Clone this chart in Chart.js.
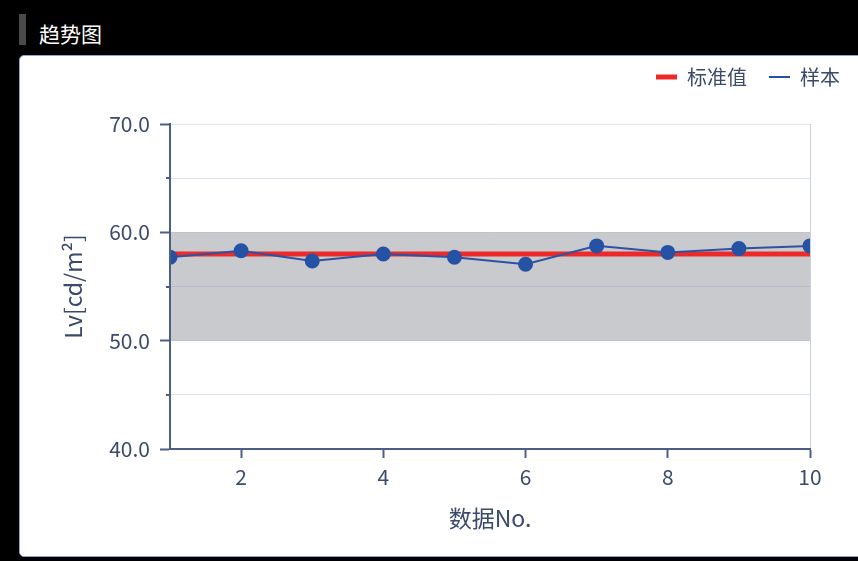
<!DOCTYPE html>
<html>
<head>
<meta charset="utf-8">
<script src="https://cdn.jsdelivr.net/npm/chart.js@4/dist/chart.umd.min.js"></script>
<style>
  html, body { margin: 0; padding: 0; background: #000; width: 858px; height: 561px; overflow: hidden; }
  .bar { position: absolute; left: 19px; top: 14px; width: 7px; height: 31px; background: #4a4a4a; }
  .title { position: absolute; left: 39px; top: 21px; font: 21px/24px 'Noto Sans CJK SC', sans-serif; color: #fff; }
  .panel { position: absolute; left: 19px; top: 55px; width: 850px; height: 500px; background: #fff; border: 1px solid #8ea4cc; border-radius: 5px; }
  #c { position: absolute; left: 19px; top: 56px; }
</style>
</head>
<body>
<div class="bar"></div>
<div class="title">趋势图</div>
<div class="panel"></div>
<canvas id="c" width="839" height="501"></canvas>
<script>
// ---- data ----
const sampleNo = [1, 2, 3, 4, 5, 6, 7, 8, 9, 10];
const sampleValues = [57.7, 58.3, 57.35, 58.0, 57.7, 57.05, 58.75, 58.15, 58.5, 58.75];
const standardValue = 58.0;
const bandLower = 50.0;
const bandUpper = 60.0;
const yRange = [40, 70];
const xRange = [1, 10];
const seriesNames = ['标准值', '样本'];
const axisTitles = ['数据No.', 'Lv[cd/m²]'];

const FONT = "'Noto Sans CJK SC', sans-serif";
const TXT = '#3b4a6b';
const AXIS = '#4d5e86';
const GRID = 'rgba(120,140,180,0.25)';

const samplePts = sampleNo.map((x, i) => ({ x, y: sampleValues[i] }));
const flat = v => [{ x: xRange[0], y: v }, { x: xRange[1], y: v }];

const minorTicks = {
  id: 'minorTicks',
  afterDraw(chart) {
    const y = chart.scales.y, ctx = chart.ctx;
    ctx.save();
    ctx.strokeStyle = AXIS; ctx.lineWidth = 2;
    y.ticks.forEach(t => {
      if (t.value % 10 !== 0) {
        const py = Math.round(y.getPixelForValue(t.value));
        ctx.beginPath(); ctx.moveTo(y.right - 4, py); ctx.lineTo(y.right, py); ctx.stroke();
      }
    });
    ctx.restore();
  }
};

new Chart(document.getElementById('c'), {
  type: 'line',
  data: {
    datasets: [
      { label: seriesNames[0], data: flat(standardValue), borderColor: '#ec2a2a', backgroundColor: '#ec2a2a',
        borderWidth: 5, pointRadius: 0, order: 1, clip: 0 },
      { label: seriesNames[1], data: samplePts, borderColor: '#2c53a3', backgroundColor: '#2552a5',
        borderWidth: 2, pointRadius: 6.5, pointBackgroundColor: '#2552a5', pointBorderColor: '#2552a5',
        pointBorderWidth: 2, order: 0, clip: 0 },
      { label: 'low', data: flat(bandLower), borderWidth: 0, pointRadius: 0, order: 2, fill: false },
      { label: 'high', data: flat(bandUpper), borderWidth: 0, pointRadius: 0, order: 2,
        fill: '-1', backgroundColor: '#c9cacd' }
    ]
  },
  options: {
    responsive: false,
    animation: false,
    events: [],
    layout: { padding: { top: -11, right: -4, left: 0, bottom: 0 } },
    elements: { line: { tension: 0 } },
    plugins: {
      tooltip: { enabled: false },
      filler: { propagate: false },
      legend: {
        position: 'top', align: 'end',
        labels: {
          usePointStyle: true, pointStyle: 'line', pointStyleWidth: 21,
          padding: 22, color: TXT, font: { family: FONT, size: 20 },
          filter: item => item.datasetIndex < 2,
          sort: (a, b) => a.datasetIndex - b.datasetIndex
        }
      }
    },
    scales: {
      x: {
        type: 'linear', min: xRange[0], max: xRange[1],
        afterFit: s => { s.height = 108; },
        ticks: { stepSize: 2, includeBounds: false, color: TXT, font: { family: FONT, size: 21 }, padding: 6 },
        grid: {
          color: c => (c.tick && c.tick.value === xRange[1]) ? '#c9d1e0' : 'rgba(0,0,0,0)',
          tickColor: AXIS, tickLength: 9, tickWidth: 2
        },
        border: { color: AXIS, width: 2 },
        title: { display: true, text: axisTitles[0], color: TXT, font: { family: FONT, size: 23 },
                 padding: { top: 4, bottom: 25 } }
      },
      xTop: {
        type: 'linear', position: 'top', display: true,
        afterFit: s => { s.height = 27; },
        ticks: { display: false },
        grid: { display: false, drawTicks: false },
        border: { display: false }
      },
      y: {
        min: yRange[0], max: yRange[1],
        afterFit: s => { s.width = 151; },
        ticks: { stepSize: 5, color: TXT, font: { family: FONT, size: 21 }, padding: 10,
                 callback: v => (v % 10 === 0 ? v.toFixed(1) : '') },
        grid: {
          z: 1,
          color: c => (c.tick && c.tick.value === yRange[0]) ? 'rgba(0,0,0,0)' : GRID,
          tickColor: c => (c.tick && c.tick.value % 10 === 0) ? AXIS : 'rgba(0,0,0,0)',
          tickLength: 10, tickWidth: 2
        },
        border: { color: AXIS, width: 2, z: 2 },
        title: { display: true, text: axisTitles[1], color: TXT, font: { family: FONT, size: 23 },
                 padding: { top: 40, bottom: 0 } }
      },
      y2: {
        position: 'right', display: true,
        afterFit: s => { s.width = 52; },
        ticks: { display: false },
        grid: { display: false, drawTicks: false },
        border: { display: false }
      }
    }
  },
  plugins: [minorTicks]
});
</script>
</body>
</html>
